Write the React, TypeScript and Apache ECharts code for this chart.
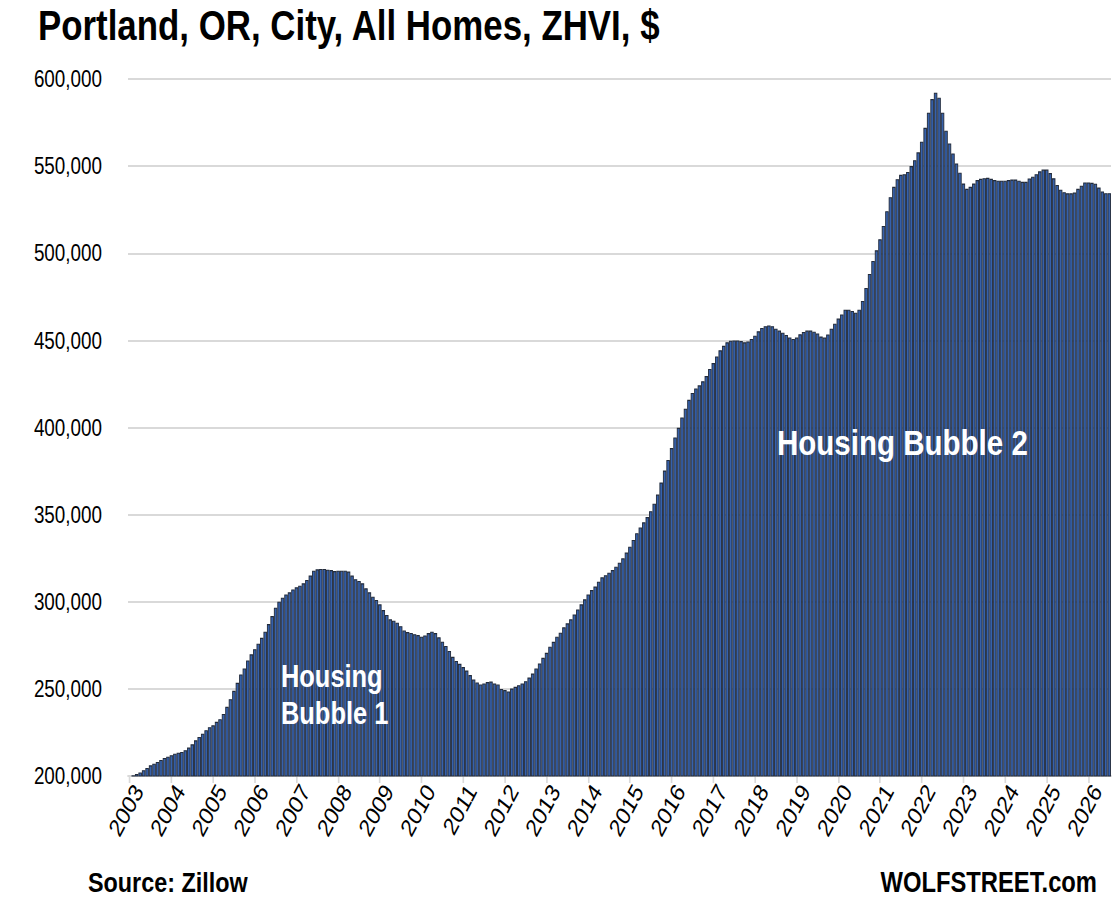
import React, { useEffect, useRef } from "react";
import * as echarts from "echarts";

// Portland, OR, City, All Homes, ZHVI — monthly values in thousands of $, Jan 2003 onward
const valuesK: number[] = [
  200.0, 200.4, 201.2, 202.0, 203.3, 204.6, 206.1, 207.1, 208.1, 209.2, 210.4, 211.1,
  211.9, 212.8, 213.4, 213.8, 214.8, 216.3, 218.2, 220.5, 222.4, 224.3, 226.3, 228.0,
  229.1, 231.1, 232.6, 235.6, 239.7, 244.1, 248.9, 253.5, 258.3, 261.7, 266.3, 269.8,
  272.8, 275.9, 279.3, 282.8, 287.2, 291.8, 296.6, 300.0, 302.3, 304.2, 305.4, 307.1,
  308.3, 309.2, 310.6, 312.5, 315.0, 317.8, 318.6, 318.8, 318.8, 318.4, 318.2, 317.6,
  317.8, 317.8, 317.8, 317.3, 315.0, 312.9, 311.9, 310.6, 307.7, 305.4, 302.9, 301.0,
  298.5, 295.2, 292.4, 289.9, 289.1, 288.0, 286.0, 283.5, 282.6, 282.1, 281.4, 280.9,
  279.9, 280.7, 282.0, 282.8, 282.0, 279.6, 277.1, 274.6, 271.8, 268.4, 266.0, 264.4,
  262.5, 260.5, 257.9, 255.4, 253.7, 252.5, 253.1, 253.9, 254.2, 253.1, 252.5, 250.0,
  249.3, 248.5, 250.2, 251.2, 252.1, 253.1, 254.4, 256.5, 258.8, 261.7, 264.6, 267.8,
  270.7, 274.2, 277.0, 279.9, 282.2, 285.3, 287.6, 289.9, 292.7, 295.6, 298.5, 301.4,
  304.2, 306.7, 308.7, 311.5, 314.0, 315.2, 316.7, 318.2, 320.1, 322.4, 324.9, 328.2,
  331.6, 335.5, 339.3, 342.6, 345.6, 348.6, 352.0, 356.3, 361.5, 368.4, 375.3, 381.4,
  388.2, 394.3, 399.8, 405.8, 410.8, 415.9, 419.8, 422.4, 424.2, 426.5, 429.5, 433.6,
  437.0, 440.8, 444.3, 446.9, 448.9, 449.8, 450.0, 450.0, 449.6, 448.9, 449.4, 450.8,
  452.7, 455.2, 457.1, 458.1, 458.6, 458.1, 456.7, 455.6, 454.4, 453.1, 451.7, 450.8,
  451.6, 453.5, 454.8, 455.6, 455.6, 455.0, 454.0, 452.2, 451.6, 453.4, 456.7, 459.6,
  462.5, 464.9, 467.6, 467.6, 466.9, 465.9, 467.6, 472.6, 480.1, 488.1, 495.6, 501.7,
  508.0, 515.7, 524.1, 532.2, 538.1, 542.5, 545.0, 545.4, 546.7, 550.0, 553.4, 557.9,
  564.0, 572.0, 580.7, 588.5, 592.1, 589.3, 580.7, 570.3, 563.0, 557.3, 551.5, 546.2,
  540.0, 537.0, 538.1, 540.0, 542.0, 542.7, 543.1, 543.3, 542.7, 542.0, 541.6, 541.6,
  541.6, 542.0, 542.3, 542.3, 541.6, 541.0, 541.0, 542.9, 543.9, 545.4, 547.0, 548.0,
  548.0, 546.0, 543.0, 539.2, 536.5, 535.0, 534.4, 534.4, 534.8, 537.0, 538.8, 540.6,
  540.6, 540.4, 539.9, 537.7, 535.5, 534.5, 534.5,
];

const START_YEAR = 2003;
const MONTHS = ["01", "02", "03", "04", "05", "06", "07", "08", "09", "10", "11", "12"];
const categories: string[] = valuesK.map(
  (_, i) => `${START_YEAR + Math.floor(i / 12)}-${MONTHS[i % 12]}`
);
const values: number[] = valuesK.map((v) => Math.round(v * 1000));

const TITLE = "Portland, OR, City, All Homes, ZHVI, $";
const SOURCE = "Source: Zillow";
const BRAND = "WOLFSTREET.com";
const BUBBLE1 = ["Housing", "Bubble 1"];
const BUBBLE2 = "Housing Bubble 2";

// The reference uses a condensed face; the chart is drawn wider and squeezed horizontally.
const SQUEEZE = 0.82;
const PAGE_W = 1115;
const PAGE_H = 897;
const CHART_W = Math.round(PAGE_W / SQUEEZE);
const px = (x: number) => x / SQUEEZE; // page x -> chart x

const FONT = "'Liberation Sans', Arial, sans-serif";

function label(
  text: string,
  x: number,
  y: number,
  size: number,
  fill: string,
  align: "left" | "right" = "left"
) {
  return {
    type: "text",
    x: px(x),
    y,
    z: 100,
    style: {
      text,
      font: `bold ${size}px ${FONT}`,
      fill,
      textAlign: align,
      textVerticalAlign: "middle",
    },
  };
}

export default function App() {
  const ref = useRef<HTMLDivElement>(null);

  useEffect(() => {
    document.body.style.margin = "0";
    if (!ref.current) return;
    const chart = echarts.init(ref.current, undefined, { renderer: "svg" });
    chart.setOption({
      animation: false,
      backgroundColor: "#ffffff",
      grid: {
        left: px(128),
        right: CHART_W - px(1111),
        top: 79,
        bottom: PAGE_H - 776,
        containLabel: false,
      },
      xAxis: {
        type: "category",
        data: categories,
        boundaryGap: true,
        axisLine: { show: true, lineStyle: { color: "#d9d9d9", width: 2 } },
        axisTick: {
          show: true,
          alignWithLabel: true,
          interval: (i: number) => i % 12 === 0,
          length: 7,
          lineStyle: { color: "#d9d9d9", width: 2 },
        },
        axisLabel: {
          interval: (i: number) => i % 12 === 0,
          rotate: 57,
          margin: 4,
          verticalAlign: "top",
          formatter: (v: string) => v.slice(0, 4),
          color: "#000000",
          fontFamily: FONT,
          fontSize: 25,
        },
        splitLine: { show: false },
      },
      yAxis: {
        type: "value",
        min: 200000,
        max: 600000,
        interval: 50000,
        axisLine: { show: false },
        axisTick: { show: false },
        axisLabel: {
          margin: px(128) - px(102),
          color: "#000000",
          fontFamily: FONT,
          fontSize: 23,
          formatter: (v: number) => v.toLocaleString("en-US"),
        },
        splitLine: { show: true, lineStyle: { color: "#d9d9d9", width: 2 } },
      },
      series: [
        {
          type: "bar",
          data: values,
          barCategoryGap: "0%",
          itemStyle: { color: "#3661AC", borderColor: "#222B3B", borderWidth: 1.1 },
        },
      ],
      graphic: [
        label(TITLE, 38, 25, 42.5, "#000000"),
        label(SOURCE, 88, 882, 28.5, "#000000"),
        label(BRAND, 1097, 882, 29, "#000000", "right"),
        label(BUBBLE1[0], 281, 676, 31, "#ffffff"),
        label(BUBBLE1[1], 281, 713, 31, "#ffffff"),
        label(BUBBLE2, 777, 442, 36, "#ffffff"),
      ],
    });
    return () => chart.dispose();
  }, []);

  return (
    <div
      style={{
        position: "absolute",
        left: 0,
        top: 0,
        width: PAGE_W,
        height: PAGE_H,
        overflow: "hidden",
      }}
    >
      <div
        ref={ref}
        style={{
          width: CHART_W,
          height: PAGE_H,
          transform: `scaleX(${SQUEEZE})`,
          transformOrigin: "0 0",
        }}
      />
    </div>
  );
}
